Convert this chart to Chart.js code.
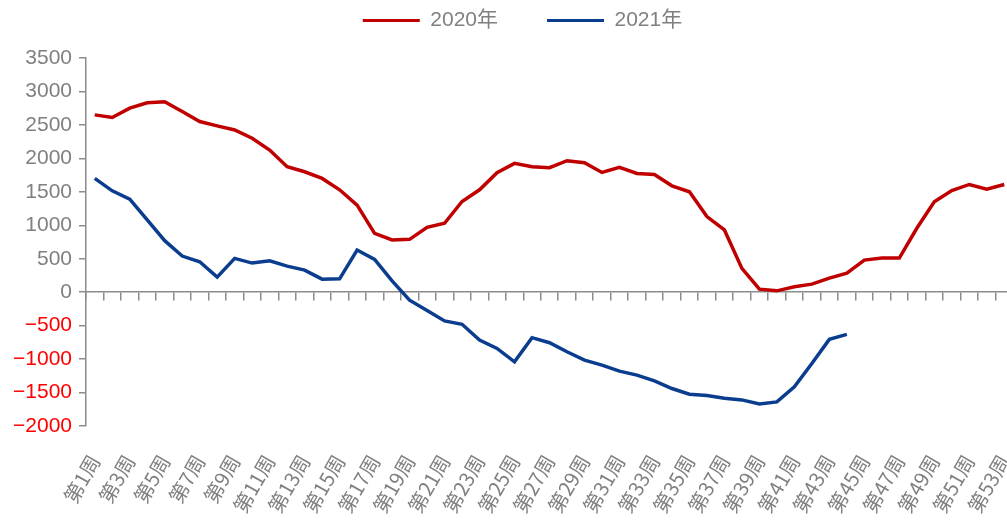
<!DOCTYPE html>
<html>
<head>
<meta charset="utf-8">
<script src="https://cdn.jsdelivr.net/npm/chart.js@4/dist/chart.umd.min.js"></script>
<style>
html, body { margin: 0; padding: 0; background: #fff; overflow: hidden; }
/* the plot in the original runs a few pixels past the right edge of the picture */
#wrap { width: 1013px; height: 520px; position: relative; }
</style>
</head>
<body>
<div id="wrap"><canvas id="chart"></canvas></div>
<script>
const weeks = ['第1周', '第2周', '第3周', '第4周', '第5周', '第6周', '第7周', '第8周', '第9周', '第10周',
    '第11周', '第12周', '第13周', '第14周', '第15周', '第16周', '第17周', '第18周', '第19周', '第20周',
    '第21周', '第22周', '第23周', '第24周', '第25周', '第26周', '第27周', '第28周', '第29周', '第30周',
    '第31周', '第32周', '第33周', '第34周', '第35周', '第36周', '第37周', '第38周', '第39周', '第40周',
    '第41周', '第42周', '第43周', '第44周', '第45周', '第46周', '第47周', '第48周', '第49周', '第50周',
    '第51周', '第52周', '第53周'];

const values2020 = [2650, 2610, 2750, 2830, 2845, 2700, 2550, 2485, 2425, 2300,
    2125, 1875, 1800, 1700, 1530, 1300, 880, 780, 790, 970,
    1030, 1355, 1530, 1785, 1925, 1875, 1860, 1965, 1935, 1790,
    1865, 1775, 1760, 1590, 1500, 1130, 930, 355, 45, 20,
    80, 120, 210, 285, 480, 510, 510, 955, 1350, 1520,
    1610, 1540, 1610];

const values2021 = [1700, 1515, 1390, 1080, 770, 540, 455, 225, 505, 435,
    470, 390, 330, 195, 200, 630, 490, 170, -120, -275,
    -430, -480, -715, -840, -1040, -680, -755, -890, -1015, -1090,
    -1180, -1240, -1325, -1440, -1525, -1545, -1585, -1610, -1670, -1640,
    -1415, -1065, -705, -630];

const seriesNames = ['2020年', '2021年'];
const yMin = -2000;
const yMax = 3500;
const yStep = 500;

document.addEventListener('DOMContentLoaded', function() {
    showChart();
});

// legend box keeps a fixed height so the plot starts where the original does,
// and the legend row sits a bit right of the canvas centre like the original
const legendHeight = {
    id: 'legendHeight',
    beforeLayout(chart) {
        const legend = chart.legend;
        if (!legend || legend._fixedFit) return;
        const fit = legend.fit;
        legend.fit = function() {
            fit.call(this);
            this.height = 97;
        };
        legend._fixedFit = true;
    },
    afterLayout(chart) {
        if (chart.legend) {
            chart.legend.left += 16;
            chart.legend.right += 16;
        }
    }
};

function showChart() {
    const ctx = document.getElementById('chart').getContext('2d');
    const gray = '#808080';
    const axisGray = '#8c8c8c';

    new Chart(ctx, {
        type: 'line',
        data: {
            labels: weeks,
            datasets: [
                {
                    label: seriesNames[0],
                    data: values2020,
                    borderColor: '#c00000',
                    backgroundColor: '#c00000',
                    borderWidth: 3.5,
                    pointRadius: 0,
                    tension: 0
                },
                {
                    label: seriesNames[1],
                    data: values2021,
                    borderColor: '#0b3d8e',
                    backgroundColor: '#0b3d8e',
                    borderWidth: 3.5,
                    pointRadius: 0,
                    tension: 0
                }
            ]
        },
        plugins: [legendHeight],
        options: {
            responsive: true,
            maintainAspectRatio: false,
            animation: false,
            layout: {
                padding: { top: -39, right: 0, left: 0, bottom: 0 }
            },
            plugins: {
                legend: {
                    position: 'top',
                    labels: {
                        boxWidth: 57,
                        boxHeight: 3,
                        padding: 49,
                        color: gray,
                        font: { family: 'Liberation Sans, Noto Sans CJK SC', size: 21 },
                        generateLabels: function(chart) {
                            const items = Chart.defaults.plugins.legend.labels.generateLabels(chart);
                            items.forEach(item => { item.lineWidth = 0; });
                            return items;
                        }
                    }
                },
                tooltip: { enabled: false }
            },
            scales: {
                x: {
                    type: 'category',
                    offset: true,
                    grid: { display: false, drawTicks: false },
                    border: { display: false },
                    ticks: {
                        autoSkip: false,
                        minRotation: 60,
                        maxRotation: 60,
                        padding: 25,
                        color: gray,
                        font: { family: 'Noto Sans CJK SC', size: 20 },
                        callback: function(value, index) {
                            return index % 2 === 0 ? this.getLabelForValue(value) : '';
                        }
                    },
                    afterFit: function(scale) {
                        scale.height = 94;
                        scale.paddingLeft = 0;
                        scale.paddingRight = 0;
                    }
                },
                x2: {
                    type: 'category',
                    position: { y: 0 },
                    offset: true,
                    grid: {
                        display: true,
                        offset: true,
                        drawOnChartArea: false,
                        drawTicks: true,
                        tickLength: 8,
                        color: axisGray,
                        lineWidth: 1.5
                    },
                    border: { display: true, color: axisGray, width: 1.5 },
                    ticks: { display: false }
                },
                y: {
                    min: yMin,
                    max: yMax,
                    ticks: {
                        stepSize: yStep,
                        padding: 7,
                        font: { family: 'Liberation Sans', size: 21 },
                        color: function(c) {
                            return c.tick.value < 0 ? '#ff0000' : gray;
                        },
                        callback: function(value) {
                            return value < 0 ? '\u2212' + Math.abs(value) : String(value);
                        }
                    },
                    grid: {
                        display: true,
                        drawOnChartArea: false,
                        drawTicks: true,
                        tickLength: 7,
                        color: axisGray,
                        lineWidth: 1.5
                    },
                    border: { display: true, color: axisGray, width: 1.5 },
                    afterFit: function(scale) {
                        scale.width = 86;
                    }
                }
            }
        }
    });
}
</script>
</body>
</html>
